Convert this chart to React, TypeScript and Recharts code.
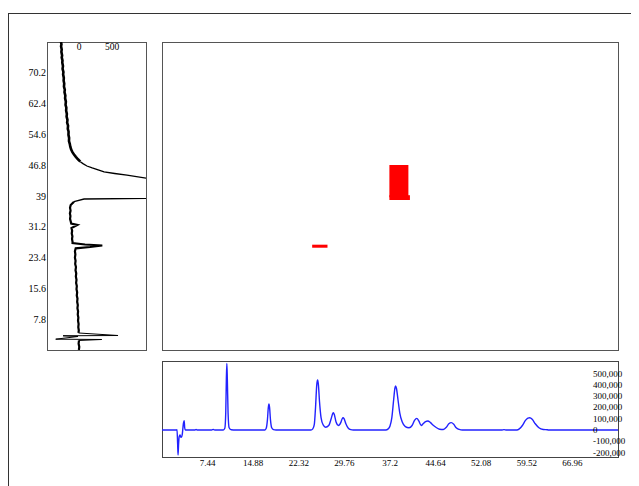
import React from 'react';
import { ScatterChart, Scatter, LineChart, Line, XAxis, YAxis, ReferenceArea } from 'recharts';

const FONT = "'Liberation Serif', 'Times New Roman', serif";

// Left projection (ppm, intensity), split by line weight
const leftUpper: [number, number][] = [
  [78.0, -273], [77.4, -266], [76.9, -272], [76.1, -262], [75.5, -267], [74.6, -256], [74.1, -262], [73.3, -250],
  [72.8, -254], [71.9, -243], [71.2, -249], [70.4, -236], [69.8, -241], [68.9, -230], [68.2, -233], [67.5, -224],
  [66.7, -228], [65.9, -215], [65.3, -220], [64.4, -207], [63.8, -211], [62.9, -199], [62.1, -204], [61.4, -192],
  [60.6, -195], [59.8, -184], [59.1, -188], [58.3, -175], [57.6, -180], [56.8, -166], [56.0, -170], [55.3, -158],
  [54.5, -160], [53.7, -150], [52.9, -152], [52.2, -140], [51.5, -132], [50.8, -120], [50.1, -100], [49.5, -76],
  [48.9, -48], [48.3, -16], [47.7, 20],
];
const leftPeak: [number, number][] = [
  [47.7, 20], [47.2, 60], [46.6, 120], [46.1, 200], [45.6, 290], [45.1, 380], [44.7, 540], [44.3, 727],
  [43.55, 1015], [42.8, 2600], [39.4, 2600], [38.42, 1015], [38.24, 76], [37.56, -76],
];
const leftLower: [number, number][] = [
  [37.56, -76], [36.7, -126], [36.0, -136], [35.3, -128], [34.6, -138], [33.9, -130], [33.2, -136], [32.5, -124],
  [32.0, -118], [31.66, -26], [30.9, -114], [30.2, -104], [29.5, -110], [28.8, -100], [28.1, -106], [27.4, -98],
  [27.1, -98], [26.72, 91], [26.47, 353], [26.09, 167], [25.76, -50], [25.0, -62], [24.2, -55], [23.4, -62],
  [22.6, -52], [21.8, -58], [21.0, -46], [20.2, -53], [19.4, -42], [18.6, -48], [17.8, -38], [17.0, -44],
  [16.2, -33], [15.4, -38], [14.6, -28], [13.8, -34], [13.0, -23], [12.2, -28], [11.4, -18], [10.6, -24],
  [9.8, -14], [9.0, -19], [8.2, -10], [7.4, -15], [6.6, -6], [5.8, -11], [5.0, -3], [4.31, -8],
];
const leftSpikes: [number, number][] = [
  [4.31, -8], [3.67, 591], [3.6, -242], [3.42, -15], [2.74, -353], [2.66, 344], [2.41, 0],
];
const leftTail: [number, number][] = [
  [2.41, 0], [1.6, -6], [0.8, 4], [0, -2],
];

// Bottom projection (shift, intensity)
const bottomTrace: [number, number][] = [
  [0, 0], [2.3, 0], [2.45, 2000], [2.55, -120000], [2.62, -221000], [2.7, -130000], [2.8, -60000], [2.94, -44000],
  [3.05, -60000], [3.16, -65000], [3.3, -40000], [3.5, 60000], [3.62, 83000], [3.7, 20000], [3.81, 0],
  [5.3, 0], [5.56, 4000], [5.8, 0], [8.1, 0], [8.39, 5000], [8.6, 0],
  [10.0, 0], [10.25, 15000], [10.4, 150000], [10.5, 450000], [10.58, 590000], [10.66, 450000], [10.78, 150000],
  [10.95, 20000], [11.3, 2000], [12, 0],
  [16.8, 0], [17.0, 15000], [17.2, 90000], [17.35, 200000], [17.45, 230000], [17.55, 200000], [17.7, 90000],
  [17.9, 20000], [18.2, 3000], [18.6, 0],
  [24.3, 0], [24.6, 10000], [24.85, 50000], [25.05, 200000], [25.25, 400000], [25.39, 443000], [25.52, 400000],
  [25.7, 250000], [25.95, 110000], [26.3, 45000], [26.7, 25000], [27.2, 40000], [27.6, 100000], [27.85, 145000],
  [27.96, 153000], [28.1, 140000], [28.4, 70000], [28.8, 40000], [29.2, 70000], [29.4, 100000], [29.54, 109000],
  [29.7, 100000], [30.0, 55000], [30.4, 15000], [30.8, 3000], [31.2, 0],
  [36.5, 0], [36.9, 10000], [37.2, 35000], [37.5, 110000], [37.8, 270000], [38.0, 370000], [38.1, 390000],
  [38.25, 370000], [38.5, 270000], [38.8, 150000], [39.2, 70000], [39.7, 30000], [40.3, 20000], [40.8, 40000],
  [41.2, 85000], [41.58, 103000], [41.9, 80000], [42.3, 40000], [42.6, 55000], [43.0, 75000], [43.38, 80000],
  [43.8, 65000], [44.3, 40000], [44.8, 20000], [45.3, 7000], [45.9, 5000], [46.4, 25000], [46.8, 55000],
  [47.2, 65000], [47.6, 50000], [48.0, 20000], [48.5, 5000], [49.0, 0],
  [55.4, 0], [55.8, 3000], [56.2, 0],
  [57.9, 0], [58.3, 10000], [58.8, 40000], [59.3, 85000], [59.7, 105000], [60.0, 109000], [60.4, 95000],
  [60.9, 55000], [61.5, 20000], [62.2, 5000], [62.9, 2000], [63.0, 0], [74.4, 0],
];

// Cross peaks: [x1, x2, y1, y2]
const crossPeaks: [number, number, number, number][] = [
  [37.1, 40.2, 38.7, 46.85],
  [37.1, 40.45, 37.99, 39.2],
  [24.5, 27.0, 25.9, 26.67],
];

const ppmTicks = [7.8, 15.6, 23.4, 31.2, 39, 46.8, 54.6, 62.4, 70.2];
const shiftTicks = [7.44, 14.88, 22.32, 29.76, 37.2, 44.64, 52.08, 59.52, 66.96];
const intensityTicks = [-200000, -100000, 0, 100000, 200000, 300000, 400000, 500000];
const leftIntensityTicks = [0, 500];

const X_DOMAIN: [number, number] = [0, 74.4];
const Y_DOMAIN: [number, number] = [0, 78];
const LEFT_VAL_DOMAIN: [number, number] = [-485, 1015];
const BOTTOM_VAL_DOMAIN: [number, number] = [-239000, 611000];

const toPV = (arr: [number, number][]) => arr.map(([p, v]) => ({ p, v }));
const bottomData = bottomTrace.map(([x, v]) => ({ x, v }));

const LeftTick = (props: any) => {
  const { x, y, payload } = props;
  return (
    <text x={x} y={y} textAnchor="end" dominantBaseline="central" fontSize={10} fontFamily={FONT} fill="#000">
      {String(payload.value)}
    </text>
  );
};

const TopTick = (props: any) => {
  const { x, payload } = props;
  return (
    <text x={x} y={17} textAnchor="middle" dominantBaseline="central" fontSize={9.5} fontFamily={FONT} fill="#000">
      {String(payload.value)}
    </text>
  );
};

const RightTick = (props: any) => {
  const { y, payload } = props;
  return (
    <text x={443} y={y} textAnchor="start" dominantBaseline="central" fontSize={9} fontFamily={FONT} fill="#000">
      {Number(payload.value).toLocaleString('en-US')}
    </text>
  );
};

const BottomTick = (props: any) => {
  const { x, payload } = props;
  return (
    <text x={x} y={113} textAnchor="middle" dominantBaseline="central" fontSize={9} fontFamily={FONT} fill="#000">
      {String(payload.value)}
    </text>
  );
};

const noShape = () => <g />;

export default function App() {
  return (
    <div style={{ position: 'relative', width: 631, height: 478 }}>
      <div
        style={{
          position: 'absolute',
          left: 0,
          top: 5,
          width: 631,
          height: 473,
          boxSizing: 'border-box',
          borderTop: '1px solid #333',
          borderLeft: '1px solid #333',
        }}
      />
      {/* Left projection */}
      <div style={{ position: 'absolute', left: -8, top: 22 }}>
        <ScatterChart width={150} height={330} margin={{ top: 11, right: 4, bottom: 10, left: 0 }}>
          <XAxis
            type="number"
            dataKey="v"
            orientation="top"
            domain={LEFT_VAL_DOMAIN}
            allowDataOverflow
            ticks={leftIntensityTicks}
            interval={0}
            height={1}
            tickLine={false}
            axisLine={false}
            tickSize={0}
            tick={<TopTick />}
          />
          <YAxis
            type="number"
            dataKey="p"
            domain={Y_DOMAIN}
            allowDataOverflow
            ticks={ppmTicks}
            interval={0}
            width={47}
            tickLine={false}
            axisLine={false}
            tickSize={0}
            tickMargin={1}
            tick={<LeftTick />}
          />
          <ReferenceArea
            x1={LEFT_VAL_DOMAIN[0]}
            x2={LEFT_VAL_DOMAIN[1]}
            y1={Y_DOMAIN[0]}
            y2={Y_DOMAIN[1]}
            fill="none"
            stroke="#555"
            strokeWidth={1}
            ifOverflow="visible"
            shapeRendering="crispEdges"
          />
          <Scatter data={toPV(leftUpper)} isAnimationActive={false} line={{ stroke: '#000', strokeWidth: 2.6 }} fill="#000" shape={noShape} />
          <Scatter data={toPV(leftPeak)} isAnimationActive={false} line={{ stroke: '#000', strokeWidth: 1.3 }} fill="#000" shape={noShape} />
          <Scatter data={toPV(leftLower)} isAnimationActive={false} line={{ stroke: '#000', strokeWidth: 2.2 }} fill="#000" shape={noShape} />
          <Scatter data={toPV(leftSpikes)} isAnimationActive={false} line={{ stroke: '#000', strokeWidth: 1 }} fill="#000" shape={noShape} />
          <Scatter data={toPV(leftTail)} isAnimationActive={false} line={{ stroke: '#000', strokeWidth: 2.2 }} fill="#000" shape={noShape} />
        </ScatterChart>
      </div>
      {/* Main 2D map */}
      <div style={{ position: 'absolute', left: 142, top: 22 }}>
        <ScatterChart width={480} height={330} margin={{ top: 12, right: 12, bottom: 10, left: 12 }}>
          <XAxis type="number" dataKey="x" domain={X_DOMAIN} hide allowDataOverflow />
          <YAxis type="number" dataKey="y" domain={Y_DOMAIN} hide allowDataOverflow />
          <ReferenceArea
            x1={X_DOMAIN[0]}
            x2={X_DOMAIN[1]}
            y1={Y_DOMAIN[0]}
            y2={Y_DOMAIN[1]}
            fill="none"
            stroke="#555"
            strokeWidth={1}
            ifOverflow="visible"
            shapeRendering="crispEdges"
          />
          {crossPeaks.map(([x1, x2, y1, y2], i) => (
            <ReferenceArea key={i} x1={x1} x2={x2} y1={y1} y2={y2} fill="#ff0000" fillOpacity={1} stroke="none" />
          ))}
          <Scatter data={[]} isAnimationActive={false} />
        </ScatterChart>
      </div>
      {/* Bottom projection */}
      <div style={{ position: 'absolute', left: 142, top: 342 }}>
        <LineChart width={480} height={130} data={bottomData} margin={{ top: 11, right: 11, bottom: 3, left: 12 }}>
          <XAxis
            type="number"
            dataKey="x"
            domain={X_DOMAIN}
            allowDataOverflow
            ticks={shiftTicks}
            interval={0}
            height={20}
            tickLine={false}
            axisLine={false}
            tickSize={0}
            tickMargin={0}
            tick={<BottomTick />}
          />
          <YAxis
            type="number"
            orientation="right"
            domain={BOTTOM_VAL_DOMAIN}
            allowDataOverflow
            ticks={intensityTicks}
            interval={0}
            width={1}
            tickLine={false}
            axisLine={false}
            tickSize={0}
            tickMargin={0}
            tick={<RightTick />}
          />
          <ReferenceArea
            x1={X_DOMAIN[0]}
            x2={X_DOMAIN[1]}
            y1={BOTTOM_VAL_DOMAIN[0]}
            y2={BOTTOM_VAL_DOMAIN[1]}
            fill="none"
            stroke="#444"
            strokeWidth={1}
            ifOverflow="visible"
            shapeRendering="crispEdges"
          />
          <Line
            type="monotone"
            dataKey="v"
            stroke="#2222ff"
            strokeWidth={1.4}
            dot={false}
            isAnimationActive={false}
          />
        </LineChart>
      </div>
    </div>
  );
}
